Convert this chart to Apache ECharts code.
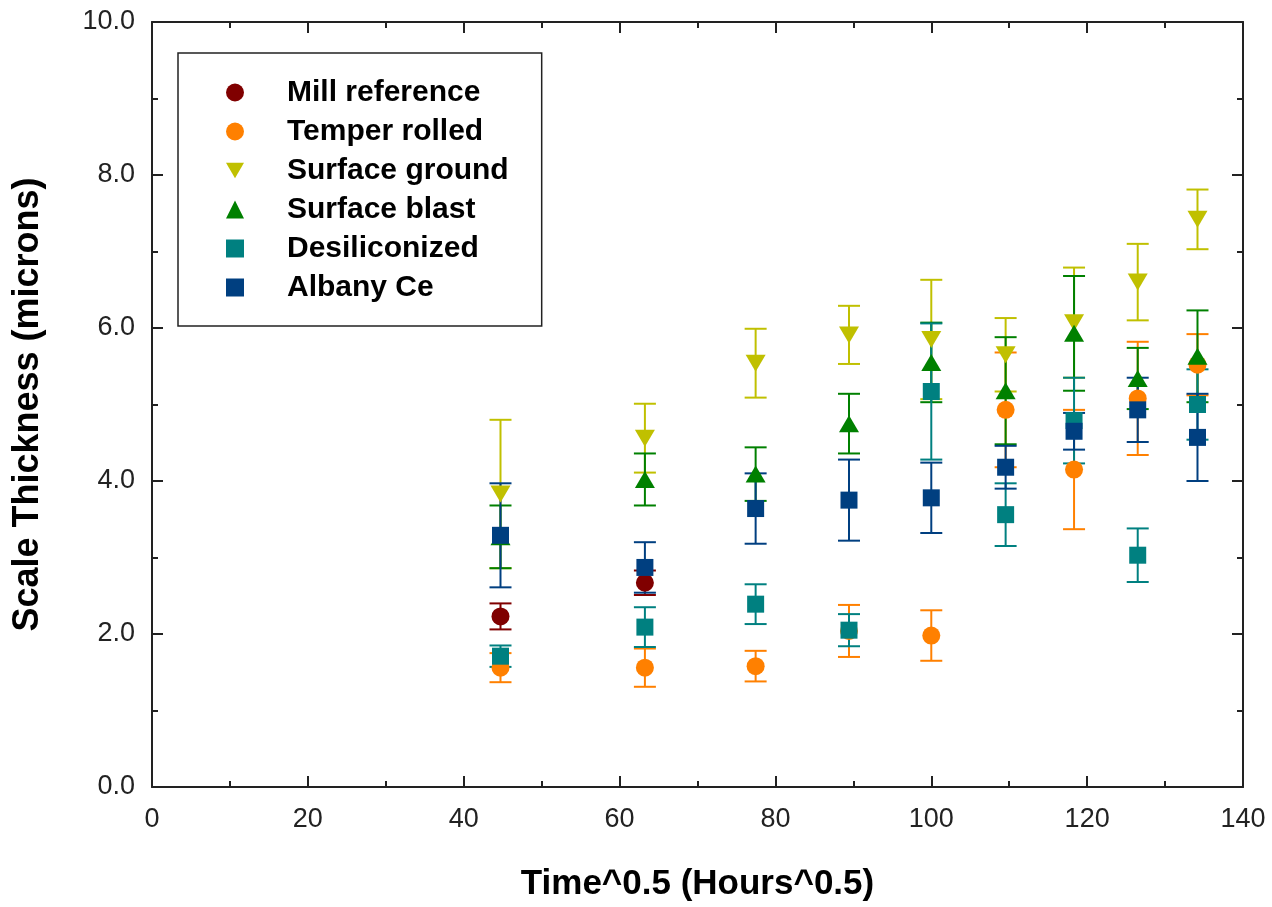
<!DOCTYPE html>
<html>
<head>
<meta charset="utf-8">
<script src="https://cdn.jsdelivr.net/npm/echarts@6/dist/echarts.min.js"></script>
<style>
  html, body { margin: 0; padding: 0; background: #fff; }
  #chart { width: 1272px; height: 907px; }
</style>
</head>
<body>
<div id="chart"></div>
<script>
// x = sqrt(hours)
const timeRoot = [44.72, 63.25, 77.46, 89.44, 100, 109.54, 118.32, 126.49, 134.16];

const millRef = [2.23, 2.67];
const millRefErr = [0.17, 0.16];

const temperRolled = [1.56, 1.56, 1.58, 2.04, 1.98, 4.93, 4.15, 5.08, 5.52];
const temperRolledErr = [0.19, 0.25, 0.2, 0.34, 0.33, 0.75, 0.78, 0.74, 0.4];

const surfaceGround = [3.83, 4.56, 5.54, 5.91, 5.85, 5.65, 6.07, 6.6, 7.42];
const surfaceGroundErr = [0.97, 0.45, 0.45, 0.38, 0.78, 0.48, 0.72, 0.5, 0.39];

const surfaceBlast = [3.27, 4.02, 4.09, 4.75, 5.55, 5.18, 5.93, 5.34, 5.63];
const surfaceBlastErr = [0.41, 0.34, 0.35, 0.39, 0.52, 0.7, 0.75, 0.4, 0.6];

const desiliconized = [1.71, 2.09, 2.39, 2.05, 5.17, 3.56, 4.79, 3.03, 5.0];
const desiliconizedErr = [0.14, 0.26, 0.26, 0.21, 0.89, 0.41, 0.56, 0.35, 0.46];

const albanyCe = [3.29, 2.87, 3.64, 3.75, 3.78, 4.18, 4.65, 4.93, 4.57];
const albanyCeErr = [0.68, 0.33, 0.46, 0.53, 0.46, 0.28, 0.24, 0.42, 0.57];

const xTicks = [0, 20, 40, 60, 80, 100, 120, 140];
const yTicks = [0, 2, 4, 6, 8, 10];

const FONT = '"Liberation Sans", Arial, sans-serif';
const DOWN_TRIANGLE = 'path://M0,0 L20,0 L10,17 Z';

const groups = [
  { name: 'Mill reference', y: millRef, err: millRefErr, color: '#800000', symbol: 'circle', size: 18, rotate: 0 },
  { name: 'Temper rolled', y: temperRolled, err: temperRolledErr, color: '#ff8000', symbol: 'circle', size: 18, rotate: 0 },
  { name: 'Surface ground', y: surfaceGround, err: surfaceGroundErr, color: '#c0c000', symbol: DOWN_TRIANGLE, size: [20, 17], rotate: 0 },
  { name: 'Surface blast', y: surfaceBlast, err: surfaceBlastErr, color: '#008000', symbol: 'triangle', size: [20, 17], rotate: 0 },
  { name: 'Desiliconized', y: desiliconized, err: desiliconizedErr, color: '#008080', symbol: 'rect', size: 17, rotate: 0 },
  { name: 'Albany Ce', y: albanyCe, err: albanyCeErr, color: '#003f80', symbol: 'rect', size: 17, rotate: 0 }
];

const chart = echarts.init(document.getElementById('chart'));

function errorBarItem(color) {
  return function (params, api) {
    const x = api.value(0), y = api.value(1), e = api.value(2);
    const top = api.coord([x, y + e]);
    const bot = api.coord([x, y - e]);
    const w = 11;
    const style = { stroke: color, lineWidth: 2 };
    return {
      type: 'group',
      children: [
        { type: 'line', shape: { x1: top[0], y1: top[1], x2: bot[0], y2: bot[1] }, style: style },
        { type: 'line', shape: { x1: top[0] - w, y1: top[1], x2: top[0] + w, y2: top[1] }, style: style },
        { type: 'line', shape: { x1: bot[0] - w, y1: bot[1], x2: bot[0] + w, y2: bot[1] }, style: style }
      ]
    };
  };
}

const series = [];
groups.forEach(g => {
  series.push({
    name: g.name + ' error',
    type: 'custom',
    renderItem: errorBarItem(g.color),
    data: g.y.map((v, i) => [timeRoot[i], v, g.err[i]]),
    silent: true
  });
  series.push({
    name: g.name,
    type: 'scatter',
    symbol: g.symbol,
    symbolSize: g.size,
    symbolRotate: g.rotate,
    itemStyle: { color: g.color, opacity: 1 },
    data: g.y.map((v, i) => [timeRoot[i], v])
  });
});

const tickStyle = { color: '#222', width: 2 };
const axisLine = { show: true, onZero: false, lineStyle: { color: '#222', width: 2 } };

function frameAxis(pos, max, interval, extra) {
  return Object.assign({
    type: 'value', position: pos, min: 0, max: max, interval: interval,
    axisLine: axisLine,
    axisTick: { show: true, inside: true, length: 11, lineStyle: tickStyle },
    minorTick: { show: true, splitNumber: 2, length: 6, lineStyle: tickStyle },
    splitLine: { show: false },
    axisLabel: { show: false }
  }, extra || {});
}

chart.setOption({
  animation: false,
  grid: { left: 152, right: 29, top: 22, bottom: 119 },
  legend: {
    data: groups.map(g => ({ name: g.name, icon: g.symbol === 'rect' ? 'rect' : g.symbol })),
    orient: 'vertical',
    left: 178,
    top: 53,
    selectedMode: false,
    borderColor: '#222',
    borderWidth: 1.5,
    padding: [20, 33, 19, 48],
    itemWidth: 18,
    itemHeight: 18,
    itemGap: 0,
    textStyle: {
      fontFamily: FONT,
      fontSize: 30,
      fontWeight: 'bold',
      color: '#000',
      lineHeight: 39,
      padding: [0, 0, 0, 38]
    }
  },
  xAxis: [
    frameAxis('bottom', xTicks[xTicks.length - 1], 20, {
      name: 'Time^0.5 (Hours^0.5)', nameLocation: 'middle', nameGap: 80,
      nameTextStyle: { fontFamily: FONT, fontSize: 35, fontWeight: 'bold', color: '#000' },
      axisLabel: { show: true, fontFamily: FONT, fontSize: 27, color: '#222', margin: 19 }
    }),
    frameAxis('top', xTicks[xTicks.length - 1], 20)
  ],
  yAxis: [
    frameAxis('left', yTicks[yTicks.length - 1], 2, {
      name: 'Scale Thickness (microns)', nameLocation: 'middle', nameGap: 106, nameRotate: 90,
      nameTextStyle: { fontFamily: FONT, fontSize: 36, fontWeight: 'bold', color: '#000' },
      axisLabel: { show: true, fontFamily: FONT, fontSize: 27, color: '#222', margin: 17, formatter: v => v.toFixed(1) }
    }),
    frameAxis('right', yTicks[yTicks.length - 1], 2)
  ],
  series: series
});
</script>
</body>
</html>
